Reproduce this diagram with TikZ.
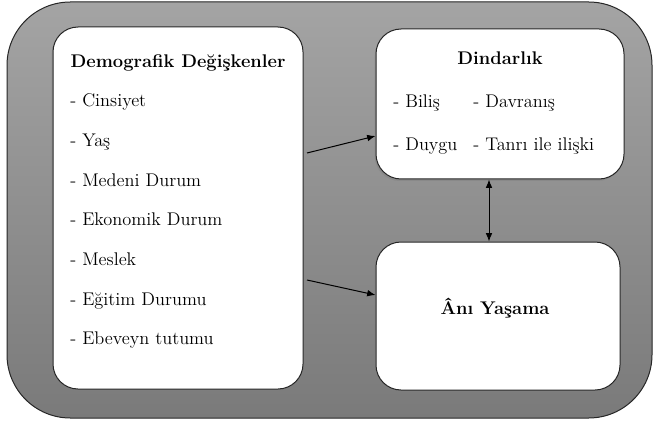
\documentclass[tikz,border=0pt]{standalone}
\usepackage{fontspec}
\usetikzlibrary{shadows,arrows.meta}

\definecolor{frametop}{RGB}{164,164,164}
\definecolor{framebot}{RGB}{122,122,122}

\begin{document}
\begin{tikzpicture}[x=0.6pt, y=-0.6pt, >={Latex[length=5pt,width=4pt]},
  card/.style={draw=black!85, fill=white, line width=0.6pt, rounded corners=15pt,
    drop shadow={shadow xshift=-0.8pt, shadow yshift=-1.2pt, opacity=0.45}},
  item/.style={anchor=base west, inner sep=0pt, font=\fontsize{11}{13}\selectfont},
  head/.style={anchor=base, inner sep=0pt, font=\bfseries\fontsize{11}{13}\selectfont}]
\useasboundingbox (0,0) rectangle (656,424);
% grey frame
\draw[draw=black!85, line width=0.6pt, rounded corners=38pt, top color=frametop, bottom color=framebot]
  (7,2) rectangle (652,418);
% boxes
\node[card, minimum width=150pt, minimum height=217.2pt] (demo) at (178,208) {};
\node[card, minimum width=148.8pt, minimum height=90pt] (dind) at (500,104) {};
\node[card, minimum width=146.4pt, minimum height=88.8pt] (ani) at (498,316) {};
% left box texts
\node[head] (demohead) at (178,68) {Demografik Değişkenler};
\node[item] (cins) at (70,107) {- Cinsiyet};
\node[item] (yas) at (70,146.6) {- Yaş};
\node[item] (medeni) at (70,186.2) {- Medeni Durum};
\node[item] (ekon) at (70,225.8) {- Ekonomik Durum};
\node[item] (meslek) at (70,265.4) {- Meslek};
\node[item] (egitim) at (70,305) {- Eğitim Durumu};
\node[item] (ebev) at (70,344.6) {- Ebeveyn tutumu};
% right boxes texts
\node[head] (dindhead) at (500,65) {Dindarlık};
\node[item] (bilis) at (393,108) {- Biliş};
\node[item] (davr) at (473,108) {- Davranış};
\node[item] (duygu) at (393,150) {- Duygu};
\node[item] (tanri) at (473,150) {- Tanrı ile ilişki};
\node[head] (anihead) at (495,314) {Ânı Yaşama};
% arrows
\coordinate (from1) at (307,153);
\coordinate (from2) at (307,280);
\draw[->, line width=0.6pt] (from1) -- ([yshift=-19.2pt]dind.west);
\draw[->, line width=0.6pt] (from2) -- ([yshift=12.6pt]ani.west);
\draw[<->, line width=0.6pt] ([xshift=-6.6pt]dind.south) -- ([xshift=-5.4pt]ani.north);
\end{tikzpicture}
\end{document}
